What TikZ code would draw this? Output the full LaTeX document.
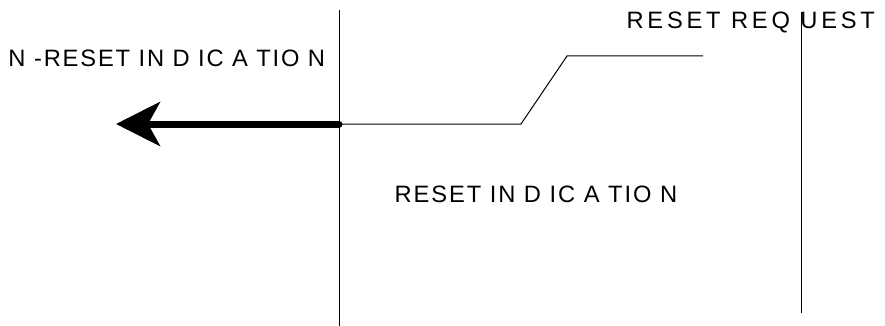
\documentclass[tikz,border=0pt]{standalone}
\usepackage{fontspec}
\setmainfont{Liberation Sans}
\usetikzlibrary{arrows.meta}
\begin{document}
\begin{tikzpicture}[x=1pt, y=-1pt, line width=1pt,
  lbl/.style={anchor=base west, inner sep=0pt, font=\fontsize{23.7}{28}\selectfont}]
\useasboundingbox (0,0) rectangle (885,326);
% lifelines
\coordinate (L_top) at (339,10);
\coordinate (L_bot) at (339,326);
\draw (L_top) -- (L_bot);
\coordinate (R_top) at (801,12);
\coordinate (R_bot) at (801,313);
\draw (R_top) -- (R_bot);
% messages
\coordinate (P_0_0) at (339,124);
\coordinate (P_1_0) at (521,124);
\coordinate (P_2_0) at (567,56);
\coordinate (P_3_0) at (703,56);
\draw (P_0_0) -- (P_1_0) -- (P_2_0) -- (P_3_0);
\coordinate (P_tip) at (116,124);
\draw[line width=7pt, line cap=round, -{Stealth[length=44pt, width=44pt, inset=12pt]}] (P_0_0) -- (P_tip);
% labels
\node[lbl] (T_nreset) at (8,67) {\addfontfeature{LetterSpace=7.8}N -RESET IN D IC A TIO N};
\node[lbl] (T_req) at (626,29) {\addfontfeature{LetterSpace=16}RESET REQ UEST};
\node[lbl] (T_ind) at (394,202) {\addfontfeature{LetterSpace=8.2}RESET IN D IC A TIO N};
\end{tikzpicture}
\end{document}
